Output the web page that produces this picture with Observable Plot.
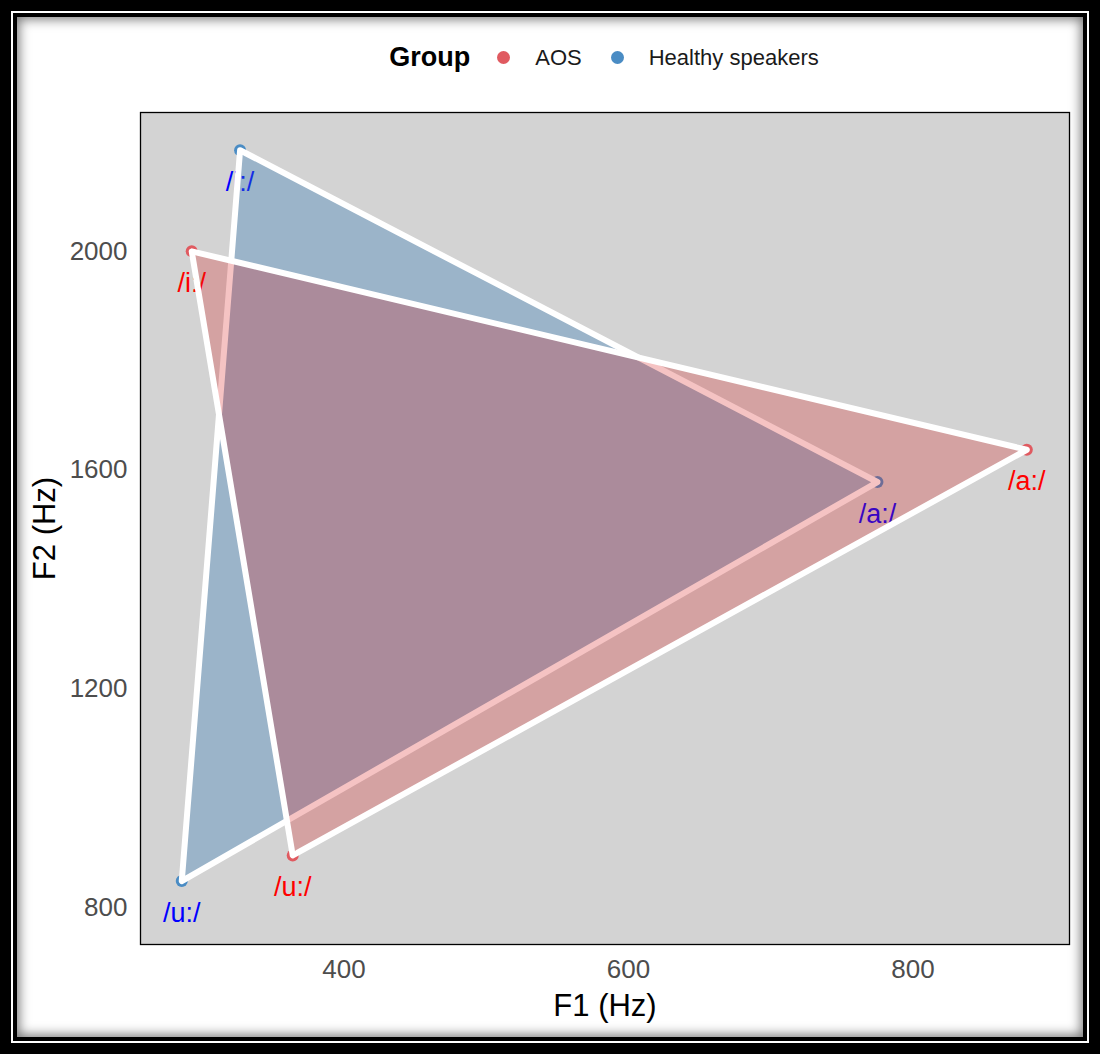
<!DOCTYPE html>
<html>
<head>
<meta charset="utf-8">
<script src="https://cdn.jsdelivr.net/npm/d3@7"></script>
<script src="https://cdn.jsdelivr.net/npm/@observablehq/plot@0.6"></script>
<style>
  html, body { margin: 0; padding: 0; background: #fff; }
  body { width: 1100px; height: 1054px; position: relative; overflow: hidden; font-family: "Liberation Sans", Arial, sans-serif; }
  .outer { position: absolute; left: 0; top: 0; width: 1100px; height: 1054px; box-sizing: border-box; border: 11px solid #000; background: #fff; }
  .inner { position: absolute; left: 2px; top: 2px; right: 2px; bottom: 2px; border: 4px solid #000; box-shadow: inset 0 0 12px 2px rgba(0,0,0,0.55); background: #fff; }
  .legend { position: absolute; top: 42px; left: 0; width: 1208px; display: flex; justify-content: center; align-items: center; font-size: 22px; color: #1a1a1a; }
  .legend .title { font-weight: bold; font-size: 27px; color: #000; margin-right: 27px; }
  .legend .sw { width: 13px; height: 13px; border-radius: 50%; display: inline-block; margin-right: 25px; }
  .legend .lab { margin-right: 29px; }
  .legend .lab:last-child { margin-right: 0; }
  #chart { position: absolute; left: 0; top: 95px; }
</style>
</head>
<body>
<div class="outer"><div class="inner"></div></div>
<div class="legend" id="legend"></div>
<div id="chart"></div>
<script>
// ---- data ----
const groups = ["AOS", "Healthy speakers"];
const vowels = ["/i:/", "/a:/", "/u:/"];
const aosF1 = [293, 880, 364];
const aosF2 = [2000, 1637, 895];
const healthyF1 = [327, 775, 286];
const healthyF2 = [2185, 1578, 848];
const xTicks = [400, 600, 800];
const yTicks = [800, 1200, 1600, 2000];

// ---- styles ----
const pointColor = {"AOS": "#e05a60", "Healthy speakers": "#4a8cc4"};
const fillColor = {"AOS": "#d81818", "Healthy speakers": "#377eb8"};
const fillOpacity = {"AOS": 0.26, "Healthy speakers": 0.36};
const labelColor = {"AOS": "#ff0000", "Healthy speakers": "#0000ff"};

const aos = vowels.map((v, i) => ({group: "AOS", vowel: v, F1: aosF1[i], F2: aosF2[i]}));
const healthy = vowels.map((v, i) => ({group: "Healthy speakers", vowel: v, F1: healthyF1[i], F2: healthyF2[i]}));
const byGroup = {"AOS": aos, "Healthy speakers": healthy};

// legend
const leg = document.getElementById("legend");
leg.innerHTML = `<span class="title">Group</span>` +
  groups.map(g => `<span class="sw" style="background:${pointColor[g]}"></span><span class="lab">${g}</span>`).join("");

const font = "'Liberation Sans', Arial, sans-serif";

const chart = Plot.plot({
  width: 1100,
  height: 925,
  marginLeft: 140,
  marginRight: 31,
  marginTop: 17,
  marginBottom: 76,
  style: {background: "transparent", fontFamily: font, overflow: "visible"},
  x: {domain: [257, 910], ticks: xTicks},
  y: {domain: [732, 2254], ticks: yTicks},
  marks: [
    Plot.frame({fill: "#d3d3d3"}),
    ...groups.map(g => Plot.dot(byGroup[g], {x: "F1", y: "F2", r: 6, fill: pointColor[g], stroke: "none"})),
    ...groups.map(g => Plot.text(byGroup[g], {x: "F1", y: "F2", text: "vowel", dy: 32, fontSize: 27, fill: labelColor[g], fontFamily: font})),
    Plot.line(healthy, {x: "F1", y: "F2", curve: "linear-closed", fill: fillColor["Healthy speakers"], fillOpacity: fillOpacity["Healthy speakers"], stroke: "white", strokeWidth: 6, strokeLinejoin: "round"}),
    Plot.line(aos, {x: "F1", y: "F2", curve: "linear-closed", fill: fillColor["AOS"], fillOpacity: fillOpacity["AOS"], stroke: "white", strokeWidth: 6, strokeLinejoin: "round"}),
    Plot.frame({stroke: "#000", strokeWidth: 1.3}),
    Plot.axisX({ticks: xTicks, tickSize: 0, tickPadding: 15, fontSize: 26, color: "#4d4d4d", label: null, tickFormat: d => String(d)}),
    Plot.axisY({ticks: yTicks, tickSize: 0, tickPadding: 13, fontSize: 26, color: "#4d4d4d", label: null, tickFormat: d => String(d)}),
    Plot.text(["F1 (Hz)"], {frameAnchor: "bottom", dy: 62, fontSize: 31, fill: "#000", lineAnchor: "middle", textAnchor: "middle", fontFamily: font}),
    Plot.text(["F2 (Hz)"], {frameAnchor: "left", dx: -95, rotate: -90, fontSize: 31, fill: "#000", lineAnchor: "middle", textAnchor: "middle", fontFamily: font})
  ]
});
document.getElementById("chart").appendChild(chart);
</script>
</body>
</html>
